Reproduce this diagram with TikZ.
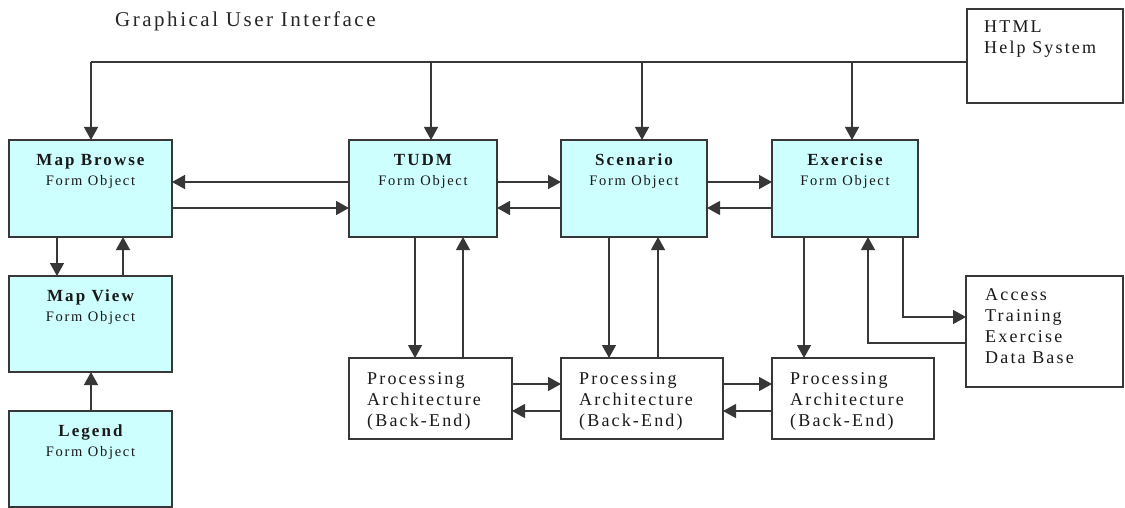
\documentclass[tikz,border=0pt]{standalone}
\usepackage{fontspec}
\setmainfont{Liberation Serif}
\newfontfamily\diagfont[LetterSpace=12]{Liberation Serif}
\usetikzlibrary{arrows.meta}
\definecolor{formcyan}{RGB}{205,255,255}
\definecolor{edgegray}{RGB}{55,55,55}
\tikzset{
	formbox/.style={draw=edgegray, line width=1.3pt, fill=formcyan, inner sep=0pt, outer sep=0pt},
	plainbox/.style={draw=edgegray, line width=1.3pt, fill=white, inner sep=0pt, outer sep=0pt},
	formtext/.style={anchor=north, inner sep=0pt, align=center, text=black!90, font=\diagfont\fontsize{14.5}{20}\selectfont},
	plaintext/.style={anchor=north west, inner sep=0pt, align=left, text=black!90, font=\diagfont\fontsize{18}{21}\selectfont},
	wire/.style={draw=edgegray, line width=1.3pt},
	arr/.style={wire, -{Triangle[width=14pt,length=13pt]}}
}
\newcommand{\formlabel}[1]{{\fontsize{17}{20}\selectfont\bfseries #1}\\{\fontsize{14.5}{20}\selectfont Form Object}}

\begin{document}
\begin{tikzpicture}[x=1pt, y=-1pt, font=\diagfont]
		%%%%% START %%%%%
		\useasboundingbox (0, 0) rectangle (1125, 508);
		
		\node[anchor=base west, inner sep=0pt, text=black!85, font=\diagfont\fontsize{21}{24}\selectfont] (gui) at (115, 27) {Graphical User Interface};
		
		% form objects
		\node[formbox, minimum width=163pt, minimum height=97pt] (mapbrowse) at (90.5, 188.5) {};
		\node[formbox, minimum width=163pt, minimum height=96pt] (mapview) at (90.5, 324) {};
		\node[formbox, minimum width=163pt, minimum height=96pt] (legend) at (90.5, 459) {};
		\node[formbox, minimum width=148pt, minimum height=97pt] (tudm) at (423, 188.5) {};
		\node[formbox, minimum width=146pt, minimum height=97pt] (scenario) at (634, 188.5) {};
		\node[formbox, minimum width=146pt, minimum height=97pt] (exercise) at (845, 188.5) {};
		
		\node[formtext] (mapbrowsetext) at ([yshift=-14pt]mapbrowse.north) {\formlabel{Map Browse}};
		\node[formtext] (mapviewtext) at ([yshift=-14pt]mapview.north) {\formlabel{Map View}};
		\node[formtext] (legendtext) at ([yshift=-14pt]legend.north) {\formlabel{Legend}};
		\node[formtext] (tudmtext) at ([yshift=-14pt]tudm.north) {\formlabel{TUDM}};
		\node[formtext] (scenariotext) at ([yshift=-14pt]scenario.north) {\formlabel{Scenario}};
		\node[formtext] (exercisetext) at ([yshift=-14pt]exercise.north) {\formlabel{Exercise}};
		
		% back-end and outside systems
		\node[plainbox, minimum width=163pt, minimum height=81pt] (proc1) at (430.5, 398.5) {};
		\node[plainbox, minimum width=162pt, minimum height=81pt] (proc2) at (642, 398.5) {};
		\node[plainbox, minimum width=162pt, minimum height=81pt] (proc3) at (853, 398.5) {};
		\node[plainbox, minimum width=156pt, minimum height=94pt] (html) at (1045, 56) {};
		\node[plainbox, minimum width=157pt, minimum height=111pt] (access) at (1044.5, 331.5) {};
		
		\node[plaintext] (proc1text) at ([xshift=18pt, yshift=-14pt]proc1.north west) {Processing\\Architecture\\(Back-End)};
		\node[plaintext] (proc2text) at ([xshift=18pt, yshift=-14pt]proc2.north west) {Processing\\Architecture\\(Back-End)};
		\node[plaintext] (proc3text) at ([xshift=18pt, yshift=-14pt]proc3.north west) {Processing\\Architecture\\(Back-End)};
		\node[plaintext] (htmltext) at ([xshift=17pt, yshift=-12pt]html.north west) {HTML\\Help System};
		\node[plaintext] (accesstext) at ([xshift=19pt, yshift=-12pt]access.north west) {Access\\Training\\Exercise\\Data Base};
		
		% help bus
		\coordinate (busR) at (967, 62);
		\coordinate (busL) at (91, 62);
		\coordinate (busT) at (431, 62);
		\coordinate (busS) at (642, 62);
		\coordinate (busE) at (852, 62);
		\draw[wire] (busR) -- (busL);
		\draw[arr] (busL) -- (mapbrowse.north -| busL);
		\draw[arr] (busT) -- (tudm.north -| busT);
		\draw[arr] (busS) -- (scenario.north -| busS);
		\draw[arr] (busE) -- (exercise.north -| busE);
		
		% between form objects
		\draw[arr] ([yshift=6.5pt]tudm.west) -- ([yshift=6.5pt]tudm.west -| mapbrowse.east);
		\draw[arr] ([yshift=-19.5pt]mapbrowse.east) -- ([yshift=-19.5pt]mapbrowse.east -| tudm.west);
		\draw[arr] ([yshift=6.5pt]tudm.east) -- ([yshift=6.5pt]tudm.east -| scenario.west);
		\draw[arr] ([yshift=-19.5pt]scenario.west) -- ([yshift=-19.5pt]scenario.west -| tudm.east);
		\draw[arr] ([yshift=6.5pt]scenario.east) -- ([yshift=6.5pt]scenario.east -| exercise.west);
		\draw[arr] ([yshift=-19.5pt]exercise.west) -- ([yshift=-19.5pt]exercise.west -| scenario.east);
		
		\draw[arr] ([xshift=-33.5pt]mapbrowse.south) -- ([xshift=-33.5pt]mapbrowse.south |- mapview.north);
		\draw[arr] ([xshift=32.5pt]mapview.north) -- ([xshift=32.5pt]mapview.north |- mapbrowse.south);
		\draw[arr] ([xshift=0.5pt]legend.north) -- ([xshift=0.5pt]mapview.south);
		
		% down to the back-end
		\draw[arr] ([xshift=-8pt]tudm.south) -- ([xshift=-8pt]tudm.south |- proc1.north);
		\draw[arr] ([xshift=40pt]tudm.south |- proc1.north) -- ([xshift=40pt]tudm.south);
		\draw[arr] ([xshift=-25pt]scenario.south) -- ([xshift=-25pt]scenario.south |- proc2.north);
		\draw[arr] ([xshift=24pt]scenario.south |- proc2.north) -- ([xshift=24pt]scenario.south);
		\draw[arr] ([xshift=-41pt]exercise.south) -- ([xshift=-41pt]exercise.south |- proc3.north);
		
		\draw[arr] ([yshift=14.5pt]proc1.east) -- ([yshift=14.5pt]proc1.east -| proc2.west);
		\draw[arr] ([yshift=-12.5pt]proc2.west) -- ([yshift=-12.5pt]proc2.west -| proc1.east);
		\draw[arr] ([yshift=14.5pt]proc2.east) -- ([yshift=14.5pt]proc2.east -| proc3.west);
		\draw[arr] ([yshift=-12.5pt]proc3.west) -- ([yshift=-12.5pt]proc3.west -| proc2.east);
		
		% data base
		\draw[arr] ([xshift=58pt]exercise.south) |- ([yshift=14.5pt]access.west);
		\draw[arr] ([yshift=-11.5pt]access.west) -| ([xshift=23pt]exercise.south);
		%%%%% END %%%%%
\end{tikzpicture}
\end{document}
